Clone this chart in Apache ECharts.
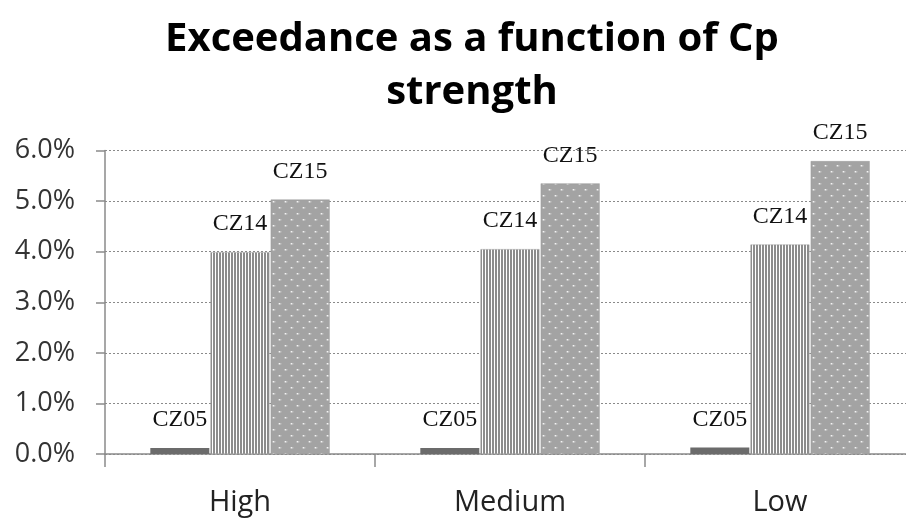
<!DOCTYPE html>
<html>
<head>
<meta charset="utf-8">
<script src="https://cdn.jsdelivr.net/npm/echarts@6/dist/echarts.min.js"></script>
<style>html,body{margin:0;padding:0;background:#fff;}#c{width:906px;height:521px;}</style>
</head>
<body>
<div id="c"></div>
<script>
var categories = ['High', 'Medium', 'Low'];
var seriesNames = ['CZ05', 'CZ14', 'CZ15'];
var cz05 = [0.12, 0.12, 0.13];
var cz14 = [3.99, 4.05, 4.14];
var cz15 = [5.03, 5.35, 5.79];
var yTicks = [0, 1, 2, 3, 4, 5, 6];

function stripePattern() {
  var c = document.createElement('canvas');
  c.width = 3; c.height = 8;
  var g = c.getContext('2d');
  g.fillStyle = '#ffffff'; g.fillRect(0, 0, 3, 8);
  g.fillStyle = '#8c8c8c'; g.fillRect(0, 0, 2, 8);
  return c;
}
function dotPattern() {
  var c = document.createElement('canvas');
  c.width = 12; c.height = 12;
  var g = c.getContext('2d');
  g.fillStyle = '#a3a3a3'; g.fillRect(0, 0, 12, 12);
  g.fillStyle = '#f4f4f4';
  g.fillRect(3, 3, 1.5, 1.5);
  g.fillRect(9, 9, 1.5, 1.5);
  g.fillStyle = '#bdbdbd';
  g.fillRect(2, 3, 1, 1.5); g.fillRect(4.5, 3, 1, 1.5);
  g.fillRect(8, 9, 1, 1.5); g.fillRect(10.5, 9, 1, 1.5);
  return c;
}

var fills = [
  '#6b6b6b',
  { image: stripePattern(), repeat: 'repeat' },
  { image: dotPattern(), repeat: 'repeat' }
];
var dataSets = [cz05, cz14, cz15];

var chart = echarts.init(document.getElementById('c'), null, { renderer: 'canvas' });
var series = seriesNames.map(function (name, i) {
  return {
    name: name,
    type: 'bar',
    data: dataSets[i],
    barWidth: 59,
    barGap: '2%',
    itemStyle: { color: fills[i], borderColor: i === 0 ? '#6b6b6b' : '#9a9a9a', borderWidth: i === 0 ? 0 : 0.5 },
    label: {
      show: true,
      position: 'top',
      distance: 16,
      formatter: name,
      fontFamily: 'Liberation Serif',
      fontSize: 24,
      color: '#111'
    },
    silent: true,
    animation: false
  };
});

chart.setOption({
  animation: false,
  title: {
    text: 'Exceedance as a function of Cp\nstrength',
    left: 467,
    top: 8,
    textAlign: 'center',
    textStyle: {
      fontFamily: 'Open Sans',
      fontWeight: 'bold',
      fontSize: 40,
      lineHeight: 53,
      color: '#000'
    }
  },
  grid: { left: 105, width: 810, top: 150.5, bottom: 67, containLabel: false, outerBoundsMode: 'none' },
  xAxis: {
    type: 'category',
    data: categories,
    boundaryGap: true,
    axisLine: { lineStyle: { color: '#8a8a8a', width: 1.5 } },
    axisTick: { show: true, length: 13, lineStyle: { color: '#8a8a8a', width: 1.5 } },
    axisLabel: { fontFamily: 'Open Sans', fontSize: 29, color: '#222', margin: 34 }
  },
  yAxis: {
    type: 'value',
    min: 0,
    max: 6,
    interval: 1,
    axisLine: { show: true, lineStyle: { color: '#8a8a8a', width: 1.5 } },
    axisTick: { show: true, inside: false, length: 9, lineStyle: { color: '#8a8a8a', width: 1.5 } },
    axisLabel: {
      fontFamily: 'Open Sans',
      fontSize: 27,
      color: '#333',
      margin: 30,
      formatter: function (v) { return v.toFixed(1) + '%'; }
    },
    splitLine: { show: true, lineStyle: { color: '#8a8a8a', type: [2, 2], width: 1 } }
  },
  series: series
});
</script>
</body>
</html>
